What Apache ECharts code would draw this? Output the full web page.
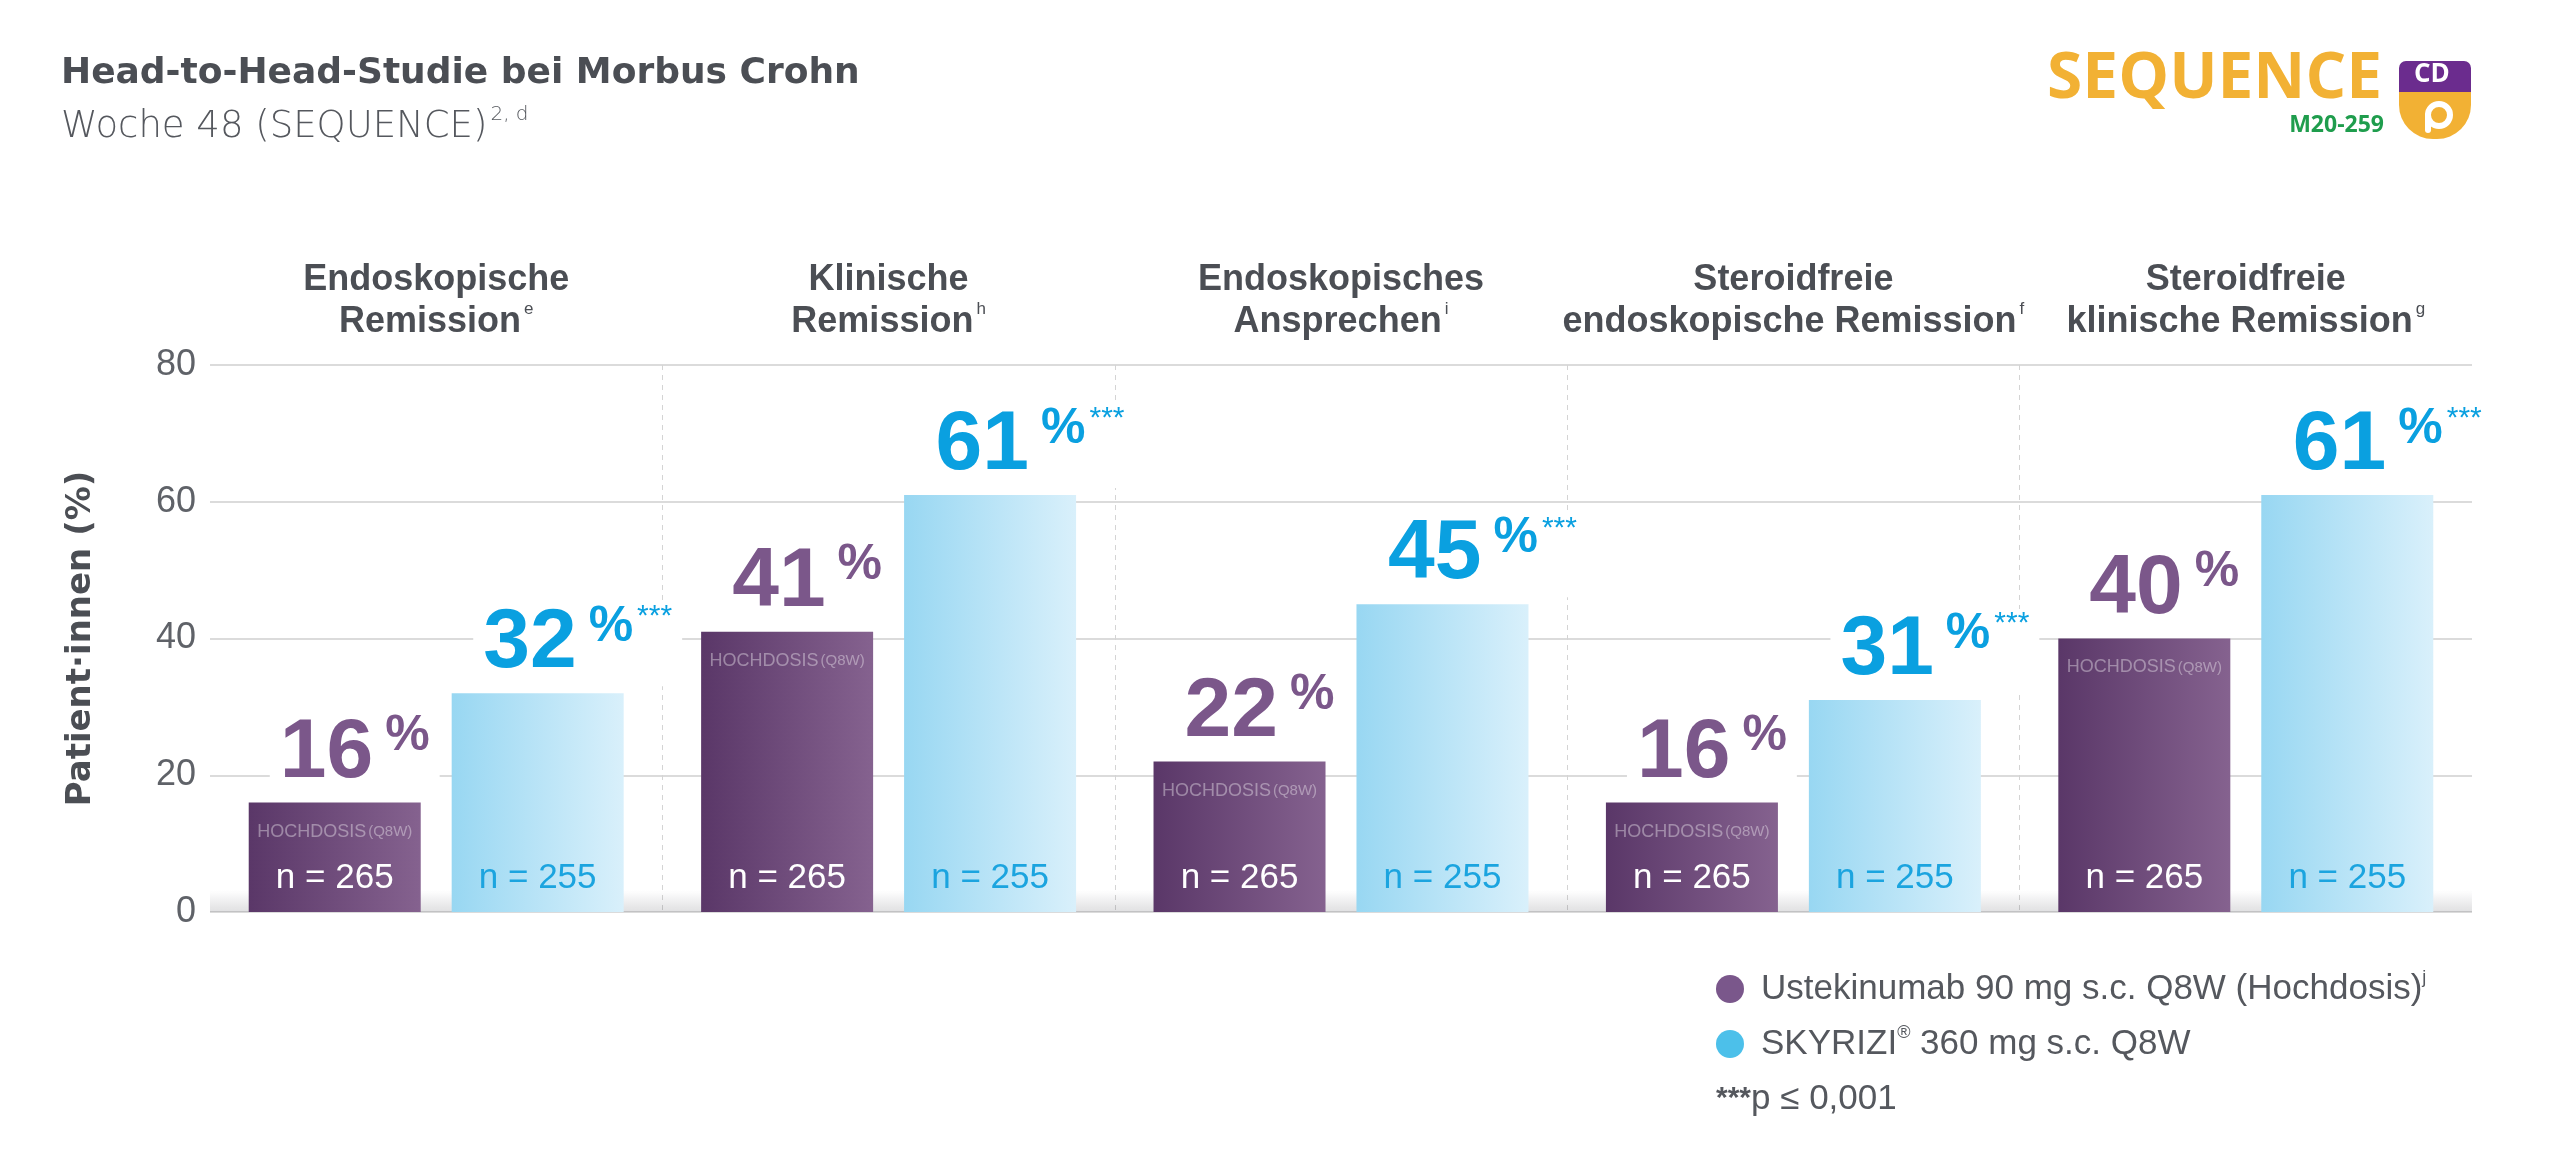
<!DOCTYPE html>
<html>
<head>
<meta charset="utf-8">
<script src="https://cdn.jsdelivr.net/npm/echarts@6/dist/echarts.min.js"></script>
<style>
html,body{margin:0;padding:0;background:#fff}
#main{width:2560px;height:1164px}
</style>
</head>
<body>
<div id="main"></div>
<script>
// Kategorien (zwei Zeilen + Fußnote)
var headLine1 = ['Endoskopische', 'Klinische', 'Endoskopisches', 'Steroidfreie', 'Steroidfreie'];
var headLine2 = ['Remission', 'Remission', 'Ansprechen', 'endoskopische Remission', 'klinische Remission'];
var headSup = ['e', 'h', 'i', 'f', 'g'];

// Werte in %
var ustekinumab = [16, 41, 22, 16, 40];
var skyrizi = [32, 61, 45, 31, 61];
var nUst = [265, 265, 265, 265, 265];
var nSky = [255, 255, 255, 255, 255];
var sigSky = ['***', '***', '***', '***', '***'];

var yTicks = {min: 0, max: 80, interval: 20};
var nameUst = 'Ustekinumab 90 mg s.c. Q8W (Hochdosis)';
var nameSky = 'SKYRIZI® 360 mg s.c. Q8W';

var categories = headLine1.map(function (t, i) { return t + ' ' + headLine2[i]; });

var dark = '#4b4e54';
var purple = '#7b578a';
var blue = '#0aa0e0';
var sans = '"Liberation Sans", Arial, sans-serif';
var wide = '"DejaVu Sans", sans-serif';

var myChart = echarts.init(document.getElementById('main'));

var barW = 172, gap = '18%';
var clear = 'rgba(0,0,0,0)';

function valueLabel(color, withSig, dx) {
    return {
        show: true,
        position: 'top',
        distance: 7,
        offset: [dx, 0],
        backgroundColor: '#fff',
        padding: [0, 10, 0, 10],
        formatter: function (p) {
            var s = '{v|' + p.value + '}{p|%}';
            if (withSig) s += '{s|' + sigSky[p.dataIndex] + '}';
            return s;
        },
        rich: {
            v: {fontFamily: sans, fontSize: 84, fontWeight: 'bold', color: color, lineHeight: 84},
            p: {fontFamily: sans, fontSize: 50, fontWeight: 'bold', color: color, lineHeight: 50,
                verticalAlign: 'top', padding: [0, 0, 0, 12]},
            s: {fontFamily: sans, fontSize: 30, color: color, lineHeight: 30,
                verticalAlign: 'top', padding: [0, 0, 0, 4]}
        }
    };
}

var option = {
    animation: false,
    title: [{
        text: 'Head-to-Head-Studie bei Morbus Crohn',
        subtext: 'Woche 48 (SEQUENCE){sup|2, d}',
        left: 56,
        top: 48,
        itemGap: 10,
        textStyle: {fontFamily: wide, fontSize: 36, fontWeight: 'bold', color: dark, lineHeight: 42},
        subtextStyle: {
            fontFamily: wide, fontSize: 37, fontWeight: 200, color: '#55585e', lineHeight: 44,
            rich: {sup: {fontFamily: wide, fontSize: 20, fontWeight: 200, color: '#55585e',
                verticalAlign: 'top', lineHeight: 22, padding: [0, 0, 0, 3]}}
        }
    }, {
        text: '{a|***}{b|p ≤ 0,001}',
        left: 1711,
        top: 1074,
        textStyle: {
            rich: {
                a: {fontFamily: sans, fontSize: 30, fontWeight: 'bold', color: '#55585e', lineHeight: 40},
                b: {fontFamily: sans, fontSize: 35, fontWeight: 'normal', color: '#55585e', lineHeight: 40}
            }
        }
    }],
    legend: {
        data: [
            {name: nameUst, itemStyle: {color: '#7a578b'}},
            {name: nameSky, itemStyle: {color: '#4cc0ea'}}
        ],
        orient: 'vertical',
        left: 1711,
        top: 964,
        icon: 'circle',
        itemWidth: 28,
        itemHeight: 28,
        itemGap: 15,
        selectedMode: false,
        formatter: function (name) {
            if (name === nameUst) return name + '{sup|j}';
            return name.replace('®', '{sup|®}');
        },
        textStyle: {
            fontFamily: sans, fontSize: 35, color: '#55585e', lineHeight: 40, padding: [0, 0, 0, 12],
            rich: {sup: {fontFamily: sans, fontSize: 18, color: '#55585e', verticalAlign: 'top', lineHeight: 20}}
        }
    },
    grid: {left: 210, right: 88, top: 365, bottom: 252},
    xAxis: [{
        type: 'category',
        position: 'top',
        data: categories,
        axisLine: {show: false},
        axisTick: {show: false},
        axisLabel: {
            interval: 0,
            margin: 22,
            formatter: function (v, i) {
                return '{t|' + headLine1[i] + '}\n{t|' + headLine2[i] + '}{s|' + headSup[i] + '}';
            },
            rich: {
                t: {fontFamily: sans, fontSize: 36, fontWeight: 'bold', color: dark, lineHeight: 42},
                s: {fontFamily: sans, fontSize: 17, color: dark, verticalAlign: 'top', lineHeight: 22, padding: [0, 0, 0, 3]}
            }
        },
        splitLine: {
            show: true,
            interval: 0,
            showMinLine: false,
            showMaxLine: false,
            lineStyle: {type: [5, 5], color: '#d4d4d4', width: 1}
        }
    }, {
        type: 'category', data: categories, show: false
    }, {
        type: 'category', data: categories, show: false
    }],
    yAxis: {
        type: 'value',
        min: yTicks.min,
        max: yTicks.max,
        interval: yTicks.interval,
        name: 'Patient·innen (%)',
        nameLocation: 'middle',
        nameRotate: 90,
        nameGap: 112,
        nameTextStyle: {fontFamily: wide, fontSize: 34, fontWeight: 'bold', color: dark},
        axisLine: {show: false},
        axisTick: {show: false},
        axisLabel: {fontFamily: sans, fontSize: 36, color: '#5f6268', margin: 14},
        splitLine: {lineStyle: {color: '#cfcfcf', width: 1.5}}
    },
    series: [{
        name: nameUst,
        type: 'bar',
        xAxisIndex: 0,
        data: ustekinumab,
        barWidth: barW,
        barGap: gap,
        itemStyle: {color: new echarts.graphic.LinearGradient(0, 0, 1, 0, [
            {offset: 0, color: '#5a3768'}, {offset: 1, color: '#85628f'}])},
        label: valueLabel(purple, false, 20)
    }, {
        name: nameSky,
        type: 'bar',
        xAxisIndex: 0,
        data: skyrizi,
        barWidth: barW,
        barGap: gap,
        itemStyle: {color: new echarts.graphic.LinearGradient(0, 0, 1, 0, [
            {offset: 0, color: '#98d7f2'}, {offset: 1, color: '#d9f0fb'}])},
        label: valueLabel(blue, true, 40)
    }, {
        name: 'nUst',
        type: 'bar',
        xAxisIndex: 1,
        data: ustekinumab,
        barWidth: barW,
        barGap: gap,
        silent: true,
        itemStyle: {color: clear},
        label: {
            show: true, position: 'insideBottom', distance: 16,
            formatter: function (p) { return 'n = ' + nUst[p.dataIndex]; },
            fontFamily: sans, fontSize: 35, color: '#ffffff'
        }
    }, {
        name: 'nSky',
        type: 'bar',
        xAxisIndex: 1,
        data: skyrizi,
        barWidth: barW,
        barGap: gap,
        silent: true,
        itemStyle: {color: clear},
        label: {
            show: true, position: 'insideBottom', distance: 16,
            formatter: function (p) { return 'n = ' + nSky[p.dataIndex]; },
            fontFamily: sans, fontSize: 35, color: '#1ba4df'
        }
    }, {
        name: 'hoch',
        type: 'bar',
        xAxisIndex: 2,
        data: ustekinumab,
        barWidth: barW,
        barGap: gap,
        silent: true,
        itemStyle: {color: clear},
        label: {
            show: true, position: 'insideTop', distance: 20,
            formatter: '{a|HOCHDOSIS}{b|(Q8W)}',
            rich: {
                a: {fontFamily: sans, fontSize: 18, color: 'rgba(255,255,255,0.38)'},
                b: {fontFamily: sans, fontSize: 15, color: 'rgba(255,255,255,0.38)', padding: [0, 0, 0, 2]}
            }
        }
    }, {
        name: 'shadow',
        type: 'bar',
        xAxisIndex: 2,
        data: skyrizi,
        barWidth: barW,
        barGap: gap,
        silent: true,
        z: 5,
        itemStyle: {color: clear},
        markArea: {
            silent: true,
            label: {show: false},
            itemStyle: {color: new echarts.graphic.LinearGradient(0, 0, 0, 1, [
                {offset: 0, color: 'rgba(60,60,70,0)'}, {offset: 1, color: 'rgba(60,60,70,0.16)'}])},
            data: [[{yAxis: 0}, {yAxis: 3.2}]]
        }
    }],
    graphic: [
        {type: 'text', right: 178, top: 48, style: {text: 'SEQUENCE', font: 'bold 64px "Open Sans", sans-serif', fill: '#f2b134'}},
        {type: 'text', right: 176, top: 114, style: {text: 'M20-259', font: 'bold 23px "Open Sans", sans-serif', fill: '#1f9d4d'}},
        {type: 'rect', left: 2399, top: 61, shape: {width: 72, height: 32, r: [7, 7, 0, 0]}, style: {fill: '#6b2c8e'}},
        {type: 'text', left: 2414, top: 62, style: {text: 'CD', font: 'bold 26px "Open Sans", sans-serif', fill: '#fff'}},
        {type: 'rect', left: 2399, top: 92, shape: {width: 72, height: 47, r: [0, 0, 34, 34]}, style: {fill: '#f2b134'}},
        {type: 'circle', left: 2425, top: 101, shape: {r: 11}, style: {fill: 'none', stroke: '#fff', lineWidth: 6}},
        {type: 'rect', left: 2425, top: 112, shape: {width: 6, height: 21, r: 3}, style: {fill: '#fff'}}
    ]
};

myChart.setOption(option);
</script>
</body>
</html>
